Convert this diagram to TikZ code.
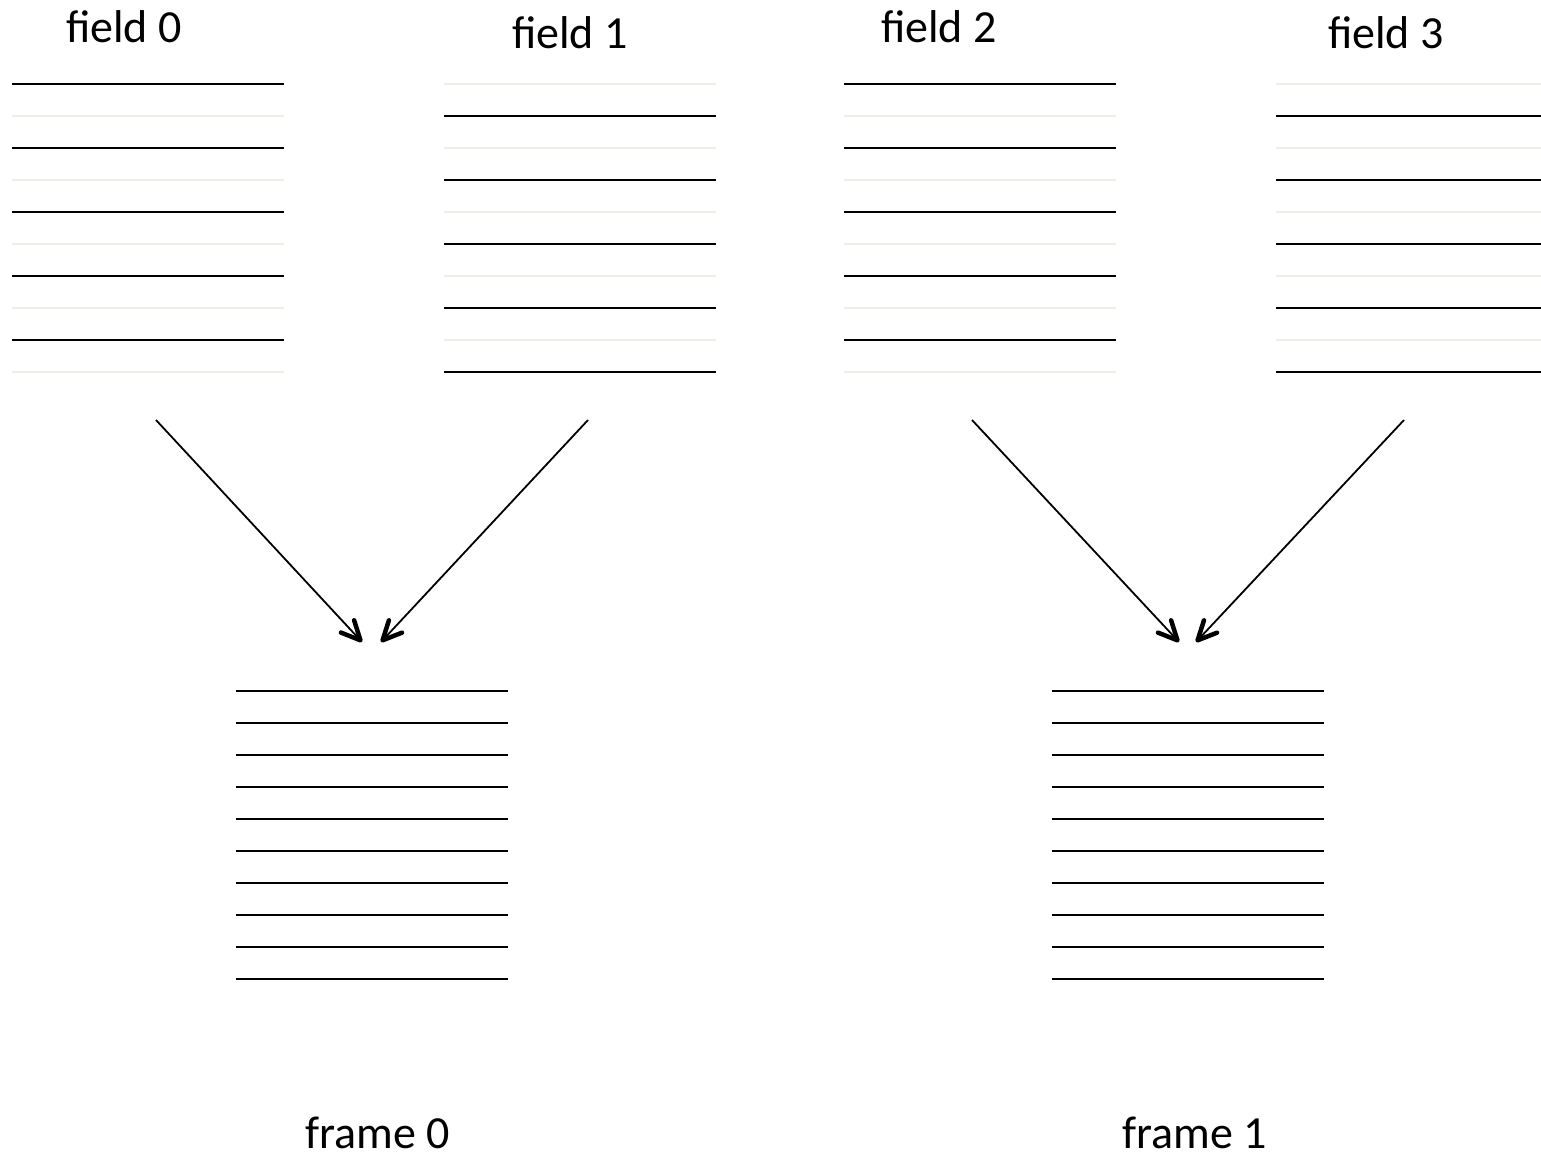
\documentclass[tikz,border=0pt]{standalone}
\usepackage{fontspec}
\setmainfont{Carlito}
\usetikzlibrary{arrows.meta}
\definecolor{faint}{HTML}{EEEEE4}
\tikzset{
  scan/.style={line width=2.4pt, black},
  gap/.style={line width=2.4pt, faint},
  arr/.style={line width=1.8pt, -{Straight Barb[length=19pt,width=18pt,line width=4.5pt,round]}},
  lbl/.style={inner sep=0pt, font=\fontsize{46}{50}\selectfont}
}
\begin{document}
\begin{tikzpicture}[x=1pt,y=-1pt]
\useasboundingbox (0,0) rectangle (1541,1157);
% fields: dark lines on even rows for fields 0 and 2, odd rows for fields 1 and 3
\foreach \i in {0,...,4} {
  \draw[scan] (12,84+64*\i) -- (284,84+64*\i);
  \draw[gap]  (12,116+64*\i) -- (284,116+64*\i);
  \draw[gap]  (444,84+64*\i) -- (716,84+64*\i);
  \draw[scan] (444,116+64*\i) -- (716,116+64*\i);
  \draw[scan] (844,84+64*\i) -- (1116,84+64*\i);
  \draw[gap]  (844,116+64*\i) -- (1116,116+64*\i);
  \draw[gap]  (1276,84+64*\i) -- (1541,84+64*\i);
  \draw[scan] (1276,116+64*\i) -- (1541,116+64*\i);
}
% frames: all rows
\foreach \i in {0,...,9} {
  \draw[scan] (236,691+32*\i) -- (508,691+32*\i);
  \draw[scan] (1052,691+32*\i) -- (1324,691+32*\i);
}
% labels
\node[lbl] (l0) at (124,27) {field 0};
\node[lbl] (l1) at (570,33) {field 1};
\node[lbl] (l2) at (939,27) {field 2};
\node[lbl] (l3) at (1386,33) {field 3};
\node[lbl] (fr0) at (378,1133) {frame 0};
\node[lbl] (fr1) at (1195,1133) {frame 1};
% arrow ends
\coordinate (s0) at (156,420);
\coordinate (s1) at (588,420);
\coordinate (s2) at (972,420);
\coordinate (s3) at (1404,420);
\coordinate (t0) at (362,642);
\coordinate (t1) at (381,642);
\coordinate (t2) at (1179,642);
\coordinate (t3) at (1196,642);
\draw[arr] (s0) -- (t0);
\draw[arr] (s1) -- (t1);
\draw[arr] (s2) -- (t2);
\draw[arr] (s3) -- (t3);
\end{tikzpicture}
\end{document}
